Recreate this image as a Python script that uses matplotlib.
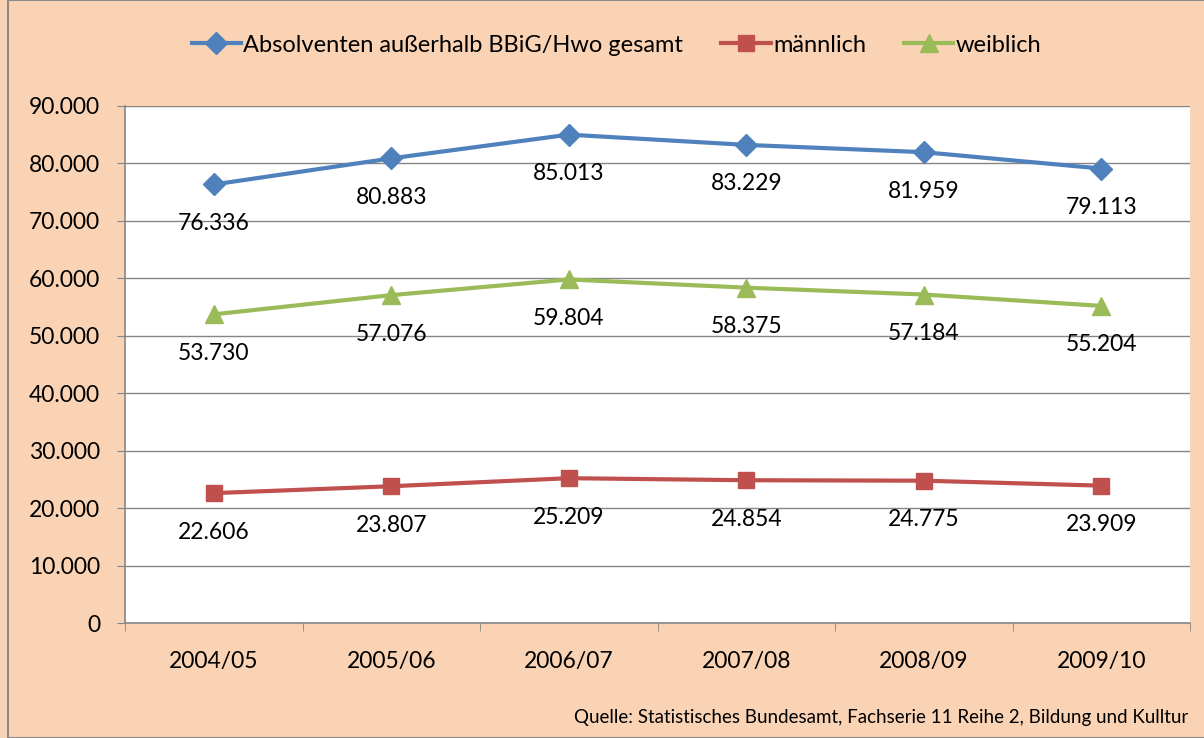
import matplotlib.pyplot as plt
from matplotlib.patches import Rectangle
from matplotlib.ticker import FuncFormatter

plt.rcParams['font.family'] = ['Lato', 'DejaVu Sans']

years = ['2004/05', '2005/06', '2006/07', '2007/08', '2008/09', '2009/10']
gesamt = [76336, 80883, 85013, 83229, 81959, 79113]
maennlich = [22606, 23807, 25209, 24854, 24775, 23909]
weiblich = [53730, 57076, 59804, 58375, 57184, 55204]

bg = '#FAD3B5'
fig = plt.figure(figsize=(12.04, 7.38), dpi=100, facecolor=bg)
fig.patches.append(Rectangle((8 / 1204, 0), 1.0, 1.0, transform=fig.transFigure,
                             fill=False, edgecolor='#8c8c8c', lw=1.5))
ax = fig.add_axes([125 / 1204, 1 - 623 / 738, 1065 / 1204, 517 / 738])
ax.set_facecolor('white')

x = list(range(len(years)))
series = [
    (gesamt, 'Absolventen außerhalb BBiG/Hwo gesamt', '#4F81BD', 'D', 11),
    (maennlich, 'männlich', '#C0504D', 's', 12),
    (weiblich, 'weiblich', '#9BBB59', '^', 13),
]
for vals, name, col, mk, ms in series:
    ax.plot(x, vals, color=col, lw=3, marker=mk, markersize=ms, label=name)
    for xi, v in zip(x, vals):
        ax.annotate(f'{v:,}'.replace(',', '.'), (xi, v), xytext=(0, -28),
                    textcoords='offset points', ha='center', va='center',
                    fontsize=16.5, color='black')

ax.set_xlim(-0.5, 5.5)
ax.set_ylim(0, 90000)
ax.set_yticks(range(0, 90001, 10000))
ax.yaxis.set_major_formatter(FuncFormatter(lambda v, p: f'{int(v):,}'.replace(',', '.')))
ax.set_xticks(x)
ax.set_xticklabels(years)
ax.set_xticks([i - 0.5 for i in range(7)], minor=True)
ax.tick_params(axis='x', which='major', length=0, pad=20, labelsize=16.5)
ax.tick_params(axis='x', which='minor', length=6, color='#868686', direction='out')
ax.tick_params(axis='y', length=6, color='#868686', labelsize=16.5, pad=12)
ax.grid(axis='y', color='#868686', lw=1)
ax.set_axisbelow(True)
for s in ['top', 'right']:
    ax.spines[s].set_visible(False)
for s in ['left', 'bottom']:
    ax.spines[s].set_color('#868686')
    ax.spines[s].set_linewidth(1.2)

fig.legend(loc='center', bbox_to_anchor=(0.512, 1 - 45 / 738), ncol=3, frameon=False,
           fontsize=17, handlelength=2.1, handletextpad=0.1, columnspacing=1.6)
fig.text(1188 / 1204, 1 - 718 / 738, 'Quelle: Statistisches Bundesamt, Fachserie 11 Reihe 2, Bildung und Kulltur',
         ha='right', va='center', fontsize=13.5)

fig.savefig('out.png', dpi=100, facecolor=bg)
